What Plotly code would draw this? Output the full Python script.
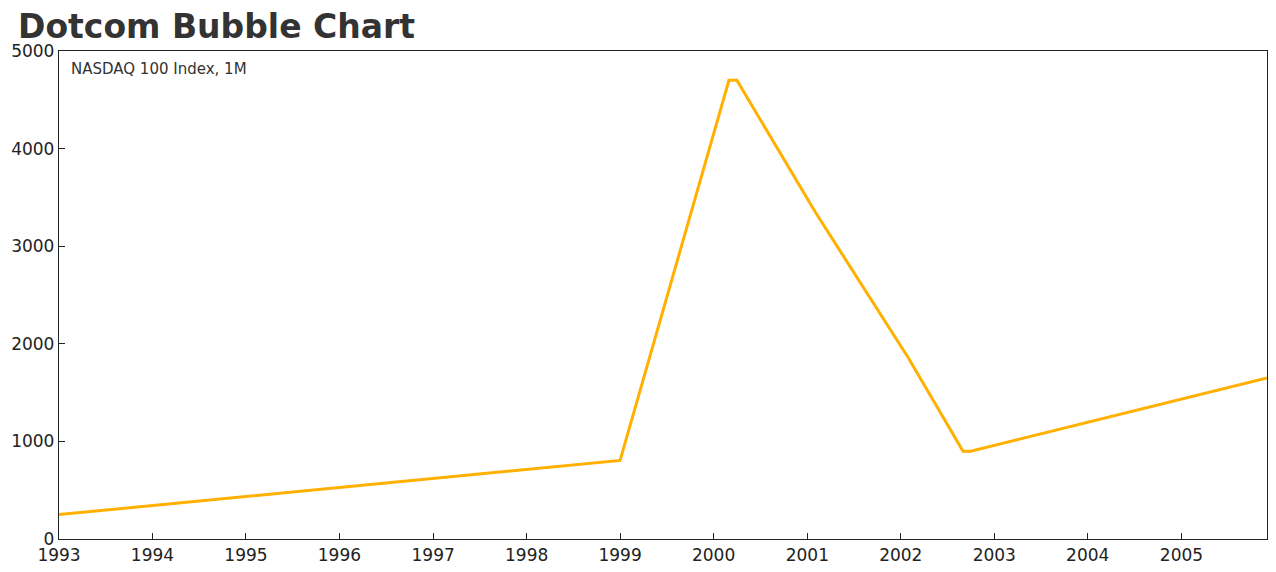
import plotly.graph_objects as go

# NASDAQ 100, monthly closes (turning points)
dates = [
    "1993-01-01",
    "1998-12-01",
    "1999-01-01",
    "2000-03-01",
    "2000-04-01",
    "2001-02-01",
    "2002-02-01",
    "2002-09-01",
    "2002-10-01",
    "2005-12-01",
]
closes = [250, 800, 805, 4700, 4700, 3350, 1850, 900, 900, 1650]

tick_years = [f"{y}-01-01" for y in range(1993, 2006)]
tick_text = [str(y) for y in range(1993, 2006)]

FONT = "DejaVu Sans"

# page body has an 8px margin, so the figure is sized to fit inside it
fig = go.Figure()
fig.add_trace(
    go.Scatter(
        x=dates,
        y=closes,
        mode="lines",
        line=dict(color="#FFB000", width=3),
        name="NASDAQ 100",
        hovertemplate="%{x|%b %Y}: %{y:.0f}<extra></extra>",
    )
)

fig.update_layout(
    width=1268,
    height=564,
    margin=dict(l=51, r=9, t=43, b=33),
    paper_bgcolor="white",
    plot_bgcolor="white",
    showlegend=False,
    font=dict(family=FONT, color="#222222", size=17),
    title=dict(
        text="<b>Dotcom Bubble Chart</b>",
        x=10 / 1268,
        xanchor="left",
        y=1 - 18 / 564,
        yanchor="middle",
        font=dict(family=FONT, size=33, color="#333333"),
    ),
    annotations=[
        dict(
            text="NASDAQ 100 Index, 1M",
            xref="paper",
            yref="paper",
            x=0.0085,
            y=1 - 7 / 488,
            xanchor="left",
            yanchor="top",
            showarrow=False,
            font=dict(family=FONT, size=15, color="#333333"),
        )
    ],
)

fig.update_xaxes(
    type="date",
    range=[dates[0], dates[-1]],
    tickvals=tick_years,
    ticktext=tick_text,
    ticks="inside",
    ticklen=6,
    tickcolor="#222222",
    showgrid=False,
    zeroline=False,
    showline=True,
    linecolor="#222222",
    linewidth=1.3,
    mirror=True,
    automargin=False,
)
fig.update_yaxes(
    range=[0, 5000],
    dtick=1000,
    ticks="inside",
    ticklen=6,
    tickcolor="#222222",
    showgrid=False,
    zeroline=False,
    showline=True,
    linecolor="#222222",
    linewidth=1.3,
    mirror=True,
    automargin=False,
)

fig.write_html("out.html")
